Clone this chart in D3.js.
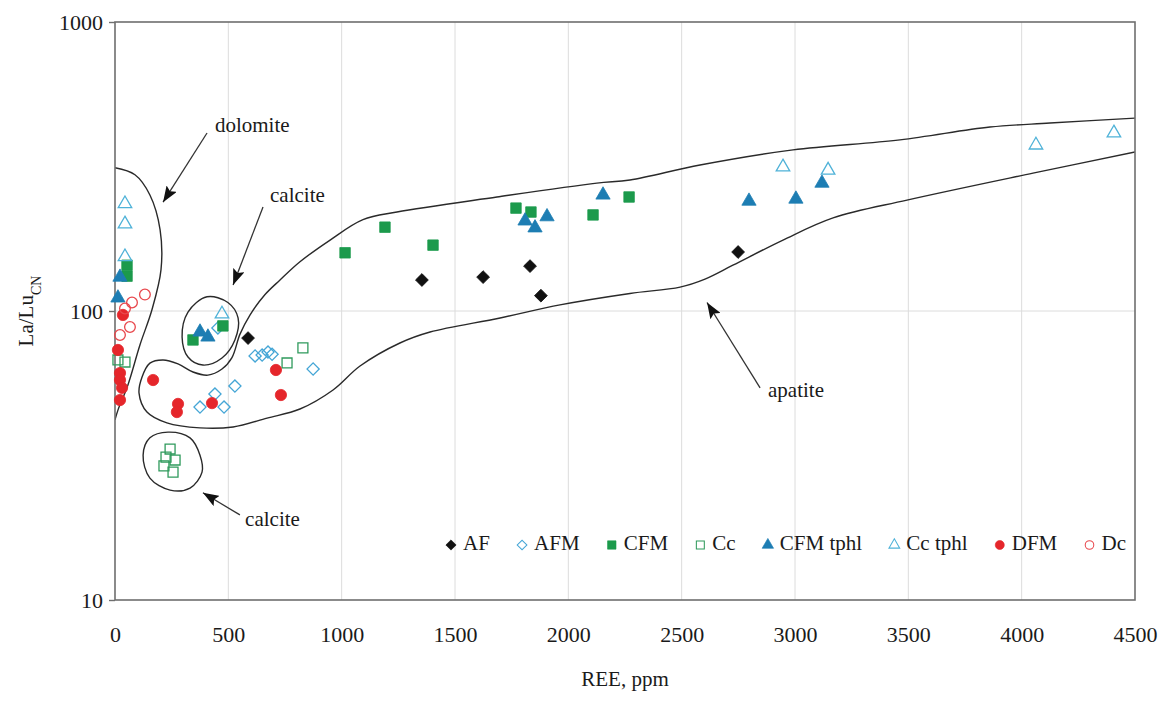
<!DOCTYPE html>
<html>
<head>
<meta charset="utf-8">
<script src="https://cdn.jsdelivr.net/npm/d3@7"></script>
<style>
body { margin: 0; background: #fff; }
text { font-family: "Liberation Serif", "Times New Roman", serif; fill: #1a1a1a; }
</style>
</head>
<body>
<script>
// axis ticks
var xTicks = [0, 500, 1000, 1500, 2000, 2500, 3000, 3500, 4000, 4500];
var yTicks = [10, 100, 1000];

// REE (ppm), La/Lu_CN
var AF = [[587, 80.6], [1354, 128], [1624, 131], [1831, 143], [1879, 113], [2749, 160]];
var AFM = [[375, 46.5], [481, 46.5], [441, 51.6], [529, 55], [618, 69.9], [649, 70.4],
  [675, 72.1], [693, 70.8], [874, 63], [454, 87.4]];
var CFM = [[344, 79.4], [476, 88.8], [53, 144], [53, 132], [1015, 159], [1191, 195],
  [1403, 169], [1769, 227], [1835, 220], [2109, 215], [2268, 248]];
var Cc = [[243, 33.3], [225, 31.2], [265, 30.5], [216, 29.1], [256, 27.7],
  [829, 74.5], [759, 66.1], [13, 67.7], [44, 66.6]];
var CFMtphl = [[1809, 205], [1853, 194], [1906, 212], [2153, 252], [2797, 240],
  [3004, 244], [3119, 277], [375, 84.6], [410, 81.3], [22, 131], [13, 111]];
var Cctphl = [[44, 235], [44, 200], [44, 154], [472, 97.6], [2947, 315], [3146, 307],
  [4063, 375], [4407, 413]];
var DFM = [[35, 96.9], [13, 73.3], [22, 61], [22, 57.7], [31, 54.2], [22, 49.2],
  [168, 57.7], [278, 47.7], [273, 44.7], [428, 48], [710, 62.5], [732, 51.2]];
var Dc = [[132, 114], [75, 107], [44, 102], [66, 88], [22, 82.6]];

// field outlines
var dolomiteField = [[0, 313], [88, 296], [154, 252], [199, 191], [203, 139], [163, 101],
  [110, 76.3], [57, 55.5], [13, 45.4], [0, 42]];
var calciteField1 = [[406, 112], [498, 107], [543, 94.6], [529, 79.4], [472, 68.8],
  [388, 65], [322, 69.3], [296, 81.3], [322, 99.2]];
var calciteField2 = [[124, 31.7], [154, 36.4], [234, 38.1], [331, 36.4], [375, 31.7],
  [384, 27.7], [331, 24.4], [243, 24], [154, 26.4]];
var apatiteField = [[4500, 465], [4125, 447], [3860, 433], [3463, 391], [2991, 361],
  [2581, 320], [2272, 284], [2126, 277], [1685, 248], [1244, 220], [1094, 207],
  [949, 176], [816, 148], [728, 128], [662, 114], [596, 97], [551, 83], [516, 69],
  [472, 63], [410, 60], [344, 61.5], [278, 65.6], [212, 67.7], [154, 66], [119, 59],
  [106, 52], [141, 44.7], [229, 41], [375, 39.4], [521, 39.7], [671, 42.6], [816, 45.8],
  [962, 53.3], [1081, 64.5], [1257, 77.5], [1390, 84.6], [1699, 94.6], [1963, 105],
  [2272, 115], [2493, 121], [2603, 129], [2726, 144], [2947, 176], [3168, 210],
  [3494, 242], [4050, 300], [4500, 355]];

// annotations: label, label pos, arrow tail, arrow tip
var notes = [
  {text: "dolomite", at: [441, 433], from: [406, 413], to: [212, 238]},
  {text: "calcite", at: [684, 248], from: [653, 229], to: [521, 123]},
  {text: "calcite", at: [574, 18.8], from: [551, 19.7], to: [388, 23.5]},
  {text: "apatite", at: [2881, 52.5], from: [2846, 54.2], to: [2612, 107]}
];

var series = [
  {name: "AF", data: AF, shape: "diamond", color: "#111111", open: false},
  {name: "AFM", data: AFM, shape: "diamond", color: "#45a6d6", open: true},
  {name: "CFM", data: CFM, shape: "square", color: "#1c9a4c", open: false},
  {name: "Cc", data: Cc, shape: "square", color: "#2f9a5c", open: true},
  {name: "CFM tphl", data: CFMtphl, shape: "triangle", color: "#1d7db3", open: false},
  {name: "Cc tphl", data: Cctphl, shape: "triangle", color: "#4fb2d8", open: true},
  {name: "DFM", data: DFM, shape: "circle", color: "#e5262b", open: false},
  {name: "Dc", data: Dc, shape: "circle", color: "#e8474c", open: true}
];

var w = 1169;
var h = 702;
var pLeft = 115, pRight = 1135, pTop = 22, pBottom = 600;

var x = d3.scaleLinear().domain([0, 4500]).range([pLeft, pRight]);
var y = d3.scaleLog().domain([10, 1000]).range([pBottom, pTop]);

var svg = d3.select("body")
  .append("svg")
  .attr("width", w)
  .attr("height", h);

var defs = svg.append("defs");
defs.append("clipPath")
  .attr("id", "plot")
  .append("rect")
  .attr("x", pLeft)
  .attr("y", pTop)
  .attr("width", pRight - pLeft)
  .attr("height", pBottom - pTop);

defs.append("marker")
  .attr("id", "head")
  .attr("markerUnits", "userSpaceOnUse")
  .attr("markerWidth", 18)
  .attr("markerHeight", 12)
  .attr("refX", 16)
  .attr("refY", 6)
  .attr("orient", "auto")
  .append("path")
  .attr("d", "M0,0 L16,6 L0,12 L3,6 Z")
  .attr("fill", "#111");

// grid
svg.append("g")
  .selectAll("line")
  .data(xTicks.slice(1, -1))
  .enter()
  .append("line")
  .attr("x1", function(d) { return x(d); })
  .attr("x2", function(d) { return x(d); })
  .attr("y1", pTop)
  .attr("y2", pBottom)
  .attr("stroke", "#dcdcdc")
  .attr("stroke-width", 1);

svg.append("line")
  .attr("x1", pLeft)
  .attr("x2", pRight)
  .attr("y1", y(100))
  .attr("y2", y(100))
  .attr("stroke", "#dcdcdc")
  .attr("stroke-width", 1);

// fields
var fields = svg.append("g").attr("clip-path", "url(#plot)");
var lineOpen = d3.line()
  .x(function(d) { return x(d[0]); })
  .y(function(d) { return y(d[1]); })
  .curve(d3.curveCatmullRom.alpha(0.5));
var lineClosed = d3.line()
  .x(function(d) { return x(d[0]); })
  .y(function(d) { return y(d[1]); })
  .curve(d3.curveCatmullRomClosed.alpha(0.5));

[dolomiteField, apatiteField].forEach(function(f) {
  fields.append("path")
    .attr("d", lineOpen(f))
    .attr("fill", "none")
    .attr("stroke", "#2a2a2a")
    .attr("stroke-width", 1.4);
});
[calciteField1, calciteField2].forEach(function(f) {
  fields.append("path")
    .attr("d", lineClosed(f))
    .attr("fill", "none")
    .attr("stroke", "#2a2a2a")
    .attr("stroke-width", 1.4);
});

// frame and axes
svg.append("rect")
  .attr("x", pLeft)
  .attr("y", pTop)
  .attr("width", pRight - pLeft)
  .attr("height", pBottom - pTop)
  .attr("fill", "none")
  .attr("stroke", "#6e6e6e")
  .attr("stroke-width", 1.6);

var yAxis = d3.axisLeft(y)
  .tickValues(yTicks)
  .tickFormat(d3.format("d"))
  .tickSize(6)
  .tickPadding(6);
var gy = svg.append("g")
  .attr("transform", "translate(" + pLeft + ",0)")
  .call(yAxis);
gy.select(".domain").remove();
gy.selectAll("line").attr("stroke", "#6e6e6e").attr("stroke-width", 1.4);
gy.selectAll("text")
  .style("font-size", "22px")
  .style("font-family", "Liberation Serif")
  .attr("fill", "#1a1a1a");

var xAxis = d3.axisBottom(x)
  .tickValues(xTicks)
  .tickFormat(d3.format("d"))
  .tickSize(0)
  .tickPadding(26);
var gx = svg.append("g")
  .attr("transform", "translate(0," + pBottom + ")")
  .call(xAxis);
gx.select(".domain").remove();
gx.selectAll("text")
  .style("font-size", "22px")
  .style("font-family", "Liberation Serif")
  .attr("fill", "#1a1a1a");

svg.append("text")
  .attr("x", (pLeft + pRight) / 2)
  .attr("y", 686)
  .attr("text-anchor", "middle")
  .style("font-size", "21px")
  .text("REE, ppm");

var ylab = svg.append("text")
  .attr("transform", "translate(33," + y(100) + ") rotate(-90)")
  .attr("text-anchor", "middle")
  .style("font-size", "21px");
ylab.append("tspan").text("La/Lu");
ylab.append("tspan").attr("baseline-shift", "sub").style("font-size", "14px").text("CN");

// annotations
notes.forEach(function(n) {
  svg.append("line")
    .attr("x1", x(n.from[0]))
    .attr("y1", y(n.from[1]))
    .attr("x2", x(n.to[0]))
    .attr("y2", y(n.to[1]))
    .attr("stroke", "#333")
    .attr("stroke-width", 1.3)
    .attr("marker-end", "url(#head)");
  svg.append("text")
    .attr("x", x(n.at[0]))
    .attr("y", y(n.at[1]))
    .attr("dominant-baseline", "middle")
    .style("font-size", "21px")
    .text(n.text);
});

// symbols
var shapes = {
  diamond: {type: d3.symbolSquare, size: 82, rot: 45},
  square: {type: d3.symbolSquare, size: 110, rot: 0},
  triangle: {type: d3.symbolTriangle, size: 88, rot: 0},
  circle: {type: d3.symbolCircle, size: 100, rot: 0}
};

var draw_symbol = function(sel, s) {
  var sh = shapes[s.shape];
  sel.attr("d", d3.symbol().type(sh.type).size(s.open ? sh.size * 0.9 : sh.size))
    .attr("fill", s.open ? "none" : s.color)
    .attr("stroke", s.color)
    .attr("stroke-width", s.open ? 1.3 : 0.8);
  return sh.rot;
};

series.forEach(function(s) {
  svg.append("g")
    .selectAll("path")
    .data(s.data)
    .enter()
    .append("path")
    .call(function(sel) {
      var rot = draw_symbol(sel, s);
      sel.attr("transform", function(d) {
        return "translate(" + x(d[0]) + "," + y(d[1]) + ") rotate(" + rot + ")";
      });
    });
});

// legend, laid out from 451 to 1126
var legend = svg.append("g");
var legY = 545;
var items = [];
series.forEach(function(s) {
  var t = legend.append("text")
    .attr("y", legY)
    .attr("dominant-baseline", "middle")
    .style("font-size", "21px")
    .text(s.name);
  items.push({s: s, t: t, len: t.node().getComputedTextLength()});
});
var total = d3.sum(items, function(d) { return d.len; });
var gap = (1126 - 451 - 8 * 12 - total) / 7;
var cx = 451;
items.forEach(function(it) {
  legend.append("path").call(function(sel) {
    var rot = draw_symbol(sel, it.s);
    sel.attr("transform", "translate(" + cx + "," + legY + ") rotate(" + rot + ") scale(0.8)");
  });
  it.t.attr("x", cx + 12);
  cx = cx + 12 + it.len + gap;
});
</script>
</body>
</html>
